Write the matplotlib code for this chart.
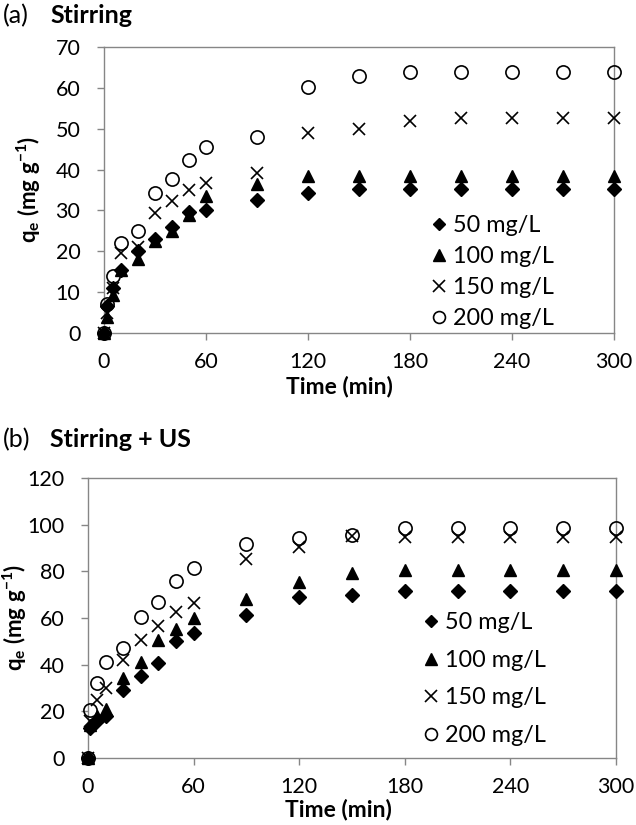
import numpy as np
import matplotlib
matplotlib.use('Agg')
import matplotlib.pyplot as plt

plt.rcParams['font.family'] = ['Lato', 'DejaVu Sans']
plt.rcParams['mathtext.fontset'] = 'custom'
plt.rcParams['mathtext.bf'] = 'Lato:bold'
plt.rcParams['mathtext.rm'] = 'Lato'

## Data
labels = ['50 mg/L', '100 mg/L', '150 mg/L', '200 mg/L']

t_a = [0, 2, 5, 10, 20, 30, 40, 50, 60, 90, 120, 150, 180, 210, 240, 270, 300]
qa_50 = [0, 6.5, 11, 15.5, 20, 23, 26, 29.5, 30, 32.5, 34.2, 35.2, 35.2, 35.2, 35.2, 35.2, 35.2]
qa_100 = [0, 3.8, 9.2, 15.5, 18, 22.5, 25, 29, 33.5, 36.4, 38.5, 38.5, 38.5, 38.5, 38.5, 38.5, 38.5]
qa_150 = [0, 5, 11, 19.5, 21, 29.4, 32.4, 35, 36.8, 39.2, 48.9, 49.9, 51.9, 52.7, 52.7, 52.7, 52.7]
qa_200 = [0, 7, 14, 22, 25, 34.3, 37.6, 42.4, 45.5, 47.9, 60.1, 62.8, 63.8, 63.8, 63.8, 63.8, 63.8]

t_b = [0, 1, 5, 10, 20, 30, 40, 50, 60, 90, 120, 150, 180, 210, 240, 270, 300]
qb_50 = [0, 12.8, 16, 18, 29, 35, 40.7, 50, 53.6, 61.2, 68.8, 70, 71.5, 71.5, 71.5, 71.5, 71.5]
qb_100 = [0, 14, 18, 21, 34.3, 41, 50.5, 55.5, 60, 68.2, 75.6, 79.5, 80.5, 80.5, 80.5, 80.5, 80.5]
qb_150 = [0, 16, 25, 30, 42, 50.5, 56.4, 62.5, 66.5, 85.3, 90.6, 95, 94.9, 94.9, 94.9, 94.9, 94.9]
qb_200 = [0, 20.5, 32, 41, 47, 60.5, 67, 76, 81.5, 91.8, 94.3, 95.6, 98.6, 98.6, 98.6, 98.6, 98.6]

styles = [dict(marker='D', ms=7, color='black', mec='black'),
          dict(marker='^', ms=9, color='black', mec='black'),
          dict(marker='x', ms=9, color='black', mew=1.2),
          dict(marker='o', ms=9.5, mfc='none', mec='black', mew=1.2)]

W, H = 636, 825
fig = plt.figure(figsize=(W/100, H/100), dpi=100)
ax_a = fig.add_axes([104/W, 1-333/H, 510/W, 286/H])
ax_b = fig.add_axes([88/W, 1-758/H, 528/W, 280/H])

def style_axis(ax, ymax, ystep, xpad):
    for s in ax.spines.values():
        s.set_color('#868686')
        s.set_linewidth(1.0)
    ax.set_xlim(0, 300)
    ax.set_ylim(0, ymax)
    ax.set_xticks(np.arange(0, 301, 60))
    ax.set_yticks(np.arange(0, ymax+1, ystep))
    ax.tick_params(axis='both', direction='out', length=5, width=1, color='#868686',
                   labelsize=15.5)
    ax.tick_params(axis='y', pad=12)
    ax.tick_params(axis='x', pad=xpad)
    ax.set_xlabel('Time (min)', fontsize=16.5, fontweight='bold', va='top')
    ax.set_ylabel(r'$\mathbf{q_e}$ (mg g$^{\mathbf{-1}}$)', fontsize=16, fontweight='bold')

for ax, t, series in [(ax_a, t_a, [qa_50, qa_100, qa_150, qa_200]),
                      (ax_b, t_b, [qb_50, qb_100, qb_150, qb_200])]:
    for q, lab, st in zip(series, labels, styles):
        ax.plot(t, q, ls='none', label=lab, clip_on=False, zorder=3, **st)

style_axis(ax_a, 70, 10, 9)
style_axis(ax_b, 120, 20, 8.5)

ax_a.xaxis.set_label_coords(0.461, -0.150)
ax_b.xaxis.set_label_coords(0.474, -0.146)
ax_a.yaxis.set_label_coords(-0.12, 0.5)
ax_b.yaxis.set_label_coords(-0.112, 0.5)

ax_a.legend(loc='lower left', bbox_to_anchor=(432/W, 1-329/H), bbox_transform=fig.transFigure,
            frameon=False, fontsize=16.8, markerscale=0.9, borderpad=0, borderaxespad=0,
            handlelength=0.6, handletextpad=0.3, labelspacing=0.43)
ax_b.legend(loc='lower left', bbox_to_anchor=(424/W, 1-746/H), bbox_transform=fig.transFigure,
            frameon=False, fontsize=16.8, markerscale=0.9, borderpad=0, borderaxespad=0,
            handlelength=0.6, handletextpad=0.3, labelspacing=0.71)

fig.text(3/W, 1-23/H, '(a)', fontsize=18, va='baseline', ha='left')
fig.text(50/W, 1-23/H, 'Stirring', fontsize=18, fontweight='bold', va='baseline', ha='left')
fig.text(3/W, 1-447/H, '(b)', fontsize=18, va='baseline', ha='left')
fig.text(50/W, 1-447/H, 'Stirring + US', fontsize=18, fontweight='bold', va='baseline', ha='left')

plt.savefig('out.png', dpi=100)
